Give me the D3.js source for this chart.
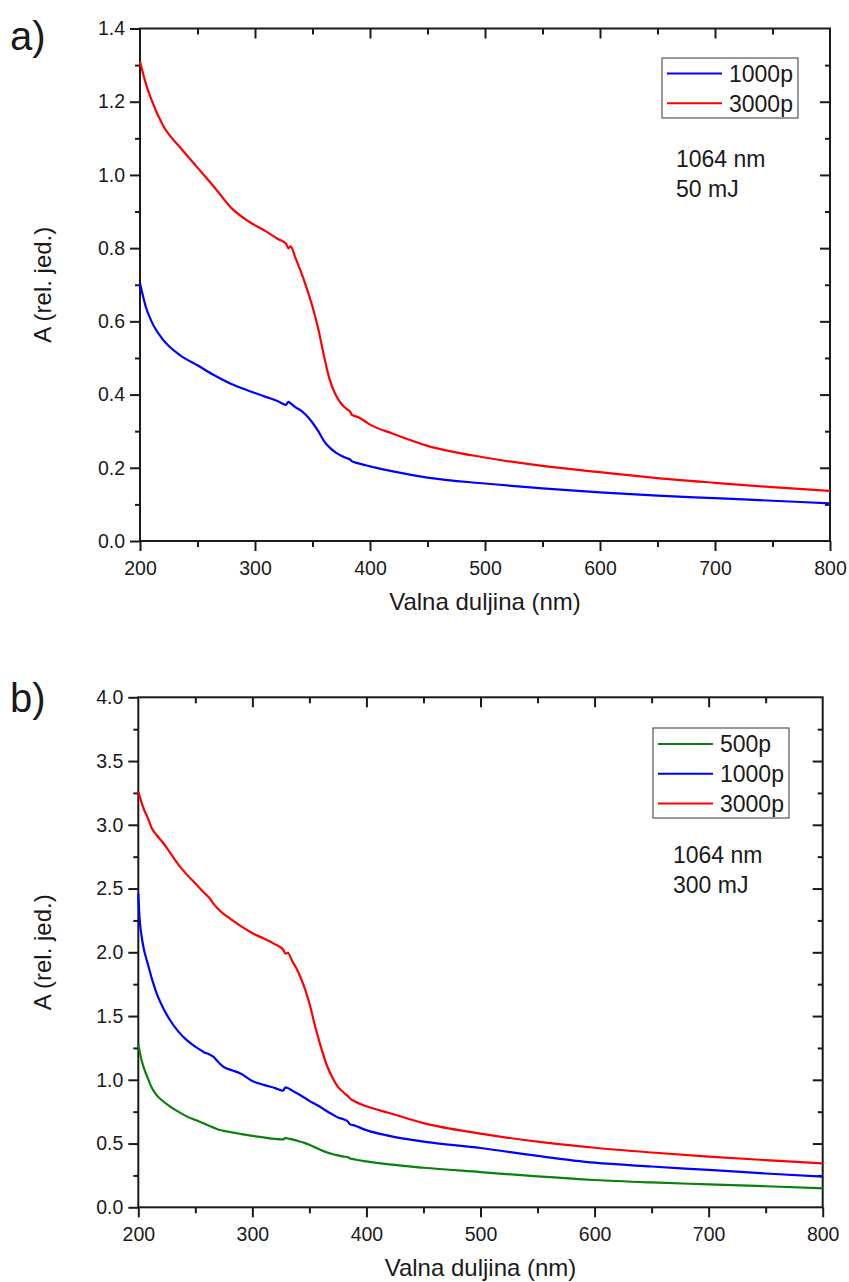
<!DOCTYPE html>
<html>
<head>
<meta charset="utf-8">
<script src="https://cdn.jsdelivr.net/npm/d3@7"></script>
<style>
  body { margin: 0; background: #fff; }
  svg { display: block; }
  text { font-family: "Liberation Sans", Arial, sans-serif; fill: #1a1a1a; }
</style>
</head>
<body>
<script>
// Panel a) 1064 nm, 50 mJ
const waveA = [200, 205, 210, 220, 235, 250, 265, 280, 295, 310, 320, 327, 329, 331, 335, 340, 345, 350, 355, 360,
  365, 370, 375, 380, 383, 384, 390, 400, 420, 450, 500, 550, 600, 650, 700, 750, 800];
const a1000 = [0.704, 0.64, 0.60, 0.55, 0.507, 0.48, 0.452, 0.428, 0.41, 0.393, 0.382, 0.372, 0.380, 0.376, 0.366, 0.356, 0.342, 0.323, 0.30, 0.273,
  0.255, 0.242, 0.233, 0.226, 0.222, 0.218, 0.212, 0.204, 0.19, 0.173, 0.157, 0.144, 0.133, 0.124, 0.117, 0.110, 0.103];
const a3000 = [1.31, 1.25, 1.205, 1.135, 1.075, 1.02, 0.965, 0.908, 0.872, 0.845, 0.825, 0.812, 0.800, 0.805, 0.775, 0.735, 0.69, 0.64, 0.58, 0.505,
  0.44, 0.40, 0.375, 0.36, 0.352, 0.345, 0.338, 0.318, 0.293, 0.26, 0.228, 0.205, 0.188, 0.172, 0.159, 0.147, 0.137];

// Panel b) 1064 nm, 300 mJ
const waveB = [200, 201, 203, 205, 208, 212, 216, 222, 228, 235, 242, 250, 258, 262, 266, 270, 275, 282, 290, 300,
  310, 320, 327, 329, 331, 335, 340, 345, 350, 355, 360, 365, 370, 375, 380, 384, 385, 390, 400, 420,
  450, 500, 550, 600, 650, 700, 750, 800];
const b500 = [1.28, 1.23, 1.15, 1.09, 1.02, 0.935, 0.88, 0.83, 0.79, 0.75, 0.715, 0.685, 0.655, 0.64, 0.625, 0.61, 0.60, 0.588, 0.575, 0.56,
  0.548, 0.537, 0.532, 0.545, 0.54, 0.533, 0.52, 0.507, 0.49, 0.47, 0.45, 0.432, 0.418, 0.407, 0.398, 0.393, 0.385, 0.375, 0.36, 0.336,
  0.31, 0.276, 0.242, 0.214, 0.195, 0.18, 0.165, 0.149];
const b1000 = [2.46, 2.28, 2.12, 2.02, 1.92, 1.79, 1.68, 1.56, 1.465, 1.38, 1.315, 1.26, 1.215, 1.20, 1.18, 1.14, 1.10, 1.075, 1.048, 0.99,
  0.96, 0.935, 0.915, 0.94, 0.935, 0.915, 0.89, 0.863, 0.835, 0.81, 0.785, 0.755, 0.73, 0.705, 0.69, 0.67, 0.655, 0.64, 0.605, 0.56,
  0.515, 0.465, 0.403, 0.35, 0.32, 0.293, 0.265, 0.24];
const b3000 = [3.26, 3.23, 3.17, 3.12, 3.06, 2.97, 2.92, 2.855, 2.78, 2.69, 2.615, 2.54, 2.465, 2.43, 2.38, 2.34, 2.30, 2.255, 2.205, 2.15,
  2.108, 2.062, 2.02, 1.99, 1.995, 1.93, 1.85, 1.74, 1.60, 1.42, 1.26, 1.12, 1.02, 0.945, 0.90, 0.87, 0.86, 0.83, 0.792, 0.74,
  0.66, 0.578, 0.515, 0.467, 0.43, 0.398, 0.37, 0.345];

// Ticks
const xTicks = [200, 300, 400, 500, 600, 700, 800];
const xMinor = [250, 350, 450, 550, 650, 750];
const yTicksA = [0, 0.2, 0.4, 0.6, 0.8, 1.0, 1.2, 1.4];
const yMinorA = [0.1, 0.3, 0.5, 0.7, 0.9, 1.1, 1.3];
const yTicksB = [0, 0.5, 1.0, 1.5, 2.0, 2.5, 3.0, 3.5, 4.0];
const yMinorB = [0.25, 0.75, 1.25, 1.75, 2.25, 2.75, 3.25, 3.75];

const legendA = ["1000p", "3000p"];
const legendB = ["500p", "1000p", "3000p"];
const notesA = ["1064 nm", "50 mJ"];
const notesB = ["1064 nm", "300 mJ"];

const RED = "#ff0000", BLUE = "#0000ff", GREEN = "#0a800a";
const INK = "#1a1a1a";
const FONT = "Liberation Sans, Arial, sans-serif";

const svg = d3.select("body").append("svg").attr("width", 849).attr("height", 1282);

const styleAxis = (sel) => {
  sel.attr("font-family", FONT).attr("font-size", 19.5).attr("color", INK);
  sel.select(".domain").remove();
  sel.selectAll(".tick line").attr("stroke-width", 2);
};

const drawPanel = (p) => {
  const g = svg.append("g");
  const x = d3.scaleLinear().domain([200, 800]).range([p.left, p.right]);
  const y = d3.scaleLinear().domain([0, p.yMax]).range([p.bottom, p.top]);
  const fmt = d3.format(".1f");

  // bottom + left: outward ticks with labels
  g.append("g").attr("transform", `translate(0,${p.bottom})`)
    .call(d3.axisBottom(x).tickValues(xMinor).tickSize(6).tickFormat("")).call(styleAxis);
  g.append("g").attr("transform", `translate(0,${p.bottom})`)
    .call(d3.axisBottom(x).tickValues(xTicks).tickSize(10).tickPadding(10).tickFormat(d3.format("d"))).call(styleAxis);
  g.append("g").attr("transform", `translate(${p.left},0)`)
    .call(d3.axisLeft(y).tickValues(p.yMinor).tickSize(5).tickFormat("")).call(styleAxis);
  g.append("g").attr("transform", `translate(${p.left},0)`)
    .call(d3.axisLeft(y).tickValues(p.yTicks).tickSize(10).tickPadding(5).tickFormat(fmt)).call(styleAxis);

  // top + right: inward ticks, no labels
  g.append("g").attr("transform", `translate(0,${p.top})`)
    .call(d3.axisTop(x).tickValues(xMinor).tickSize(-6).tickFormat("")).call(styleAxis);
  g.append("g").attr("transform", `translate(0,${p.top})`)
    .call(d3.axisTop(x).tickValues(xTicks.slice(1, -1)).tickSize(-10).tickFormat("")).call(styleAxis);
  g.append("g").attr("transform", `translate(${p.right},0)`)
    .call(d3.axisRight(y).tickValues(p.yMinor).tickSize(-5).tickFormat("")).call(styleAxis);
  g.append("g").attr("transform", `translate(${p.right},0)`)
    .call(d3.axisRight(y).tickValues(p.yTicks.slice(1, -1)).tickSize(-10).tickFormat("")).call(styleAxis);

  // frame
  g.append("rect")
    .attr("x", p.left).attr("y", p.top)
    .attr("width", p.right - p.left).attr("height", p.bottom - p.top)
    .attr("fill", "none").attr("stroke", INK).attr("stroke-width", 2);

  const line = d3.line().curve(d3.curveMonotoneX).x(d => x(d[0])).y(d => y(d[1]));
  p.series.forEach(s => {
    g.append("path")
      .datum(p.wave.map((w, i) => [w, s.values[i]]))
      .attr("d", line)
      .attr("fill", "none")
      .attr("stroke", s.color)
      .attr("stroke-width", 2.2)
      .attr("stroke-linejoin", "round");
  });

  // legend
  const lg = p.legend;
  g.append("rect")
    .attr("x", lg.x).attr("y", lg.y).attr("width", lg.w).attr("height", lg.h)
    .attr("fill", "#fff").attr("stroke", "#555").attr("stroke-width", 1.2);
  p.series.forEach((s, i) => {
    const cy = lg.y + lg.first + i * lg.step;
    g.append("line")
      .attr("x1", lg.x + 5).attr("x2", lg.x + 60)
      .attr("y1", cy).attr("y2", cy)
      .attr("stroke", s.color).attr("stroke-width", 2);
    g.append("text")
      .attr("x", lg.x + 67).attr("y", cy).attr("dy", "0.36em")
      .attr("font-size", 23)
      .text(s.name);
  });

  // notes
  p.notes.forEach((t, i) => {
    g.append("text")
      .attr("x", p.noteX).attr("y", p.noteY + i * 30)
      .attr("font-size", 23)
      .text(t);
  });

  // axis titles
  g.append("text")
    .attr("x", (p.left + p.right) / 2).attr("y", p.bottom + 69)
    .attr("text-anchor", "middle").attr("font-size", 24)
    .text("Valna duljina (nm)");
  g.append("text")
    .attr("transform", `translate(43,${(p.top + p.bottom) / 2}) rotate(-90)`)
    .attr("dy", "0.35em")
    .attr("text-anchor", "middle").attr("font-size", 24)
    .text("A (rel. jed.)");

  // panel label
  g.append("text")
    .attr("x", 10).attr("y", p.labelY)
    .attr("font-family", "Open Sans, Noto Sans, sans-serif")
    .attr("font-size", 40)
    .text(p.label);
};

drawPanel({
  left: 140, right: 830, top: 28.5, bottom: 541, yMax: 1.4,
  yTicks: yTicksA, yMinor: yMinorA,
  wave: waveA,
  series: [
    { name: legendA[0], values: a1000, color: BLUE },
    { name: legendA[1], values: a3000, color: RED }
  ],
  legend: { x: 662, y: 58, w: 136, h: 60, first: 15.5, step: 29.8 },
  notes: notesA, noteX: 676, noteY: 167,
  label: "a)", labelY: 50
});

drawPanel({
  left: 138.3, right: 822.7, top: 697.3, bottom: 1207.3, yMax: 4.0,
  yTicks: yTicksB, yMinor: yMinorB,
  wave: waveB,
  series: [
    { name: legendB[0], values: b500, color: GREEN },
    { name: legendB[1], values: b1000, color: BLUE },
    { name: legendB[2], values: b3000, color: RED }
  ],
  legend: { x: 653, y: 728, w: 136, h: 90, first: 16, step: 29.7 },
  notes: notesB, noteX: 673, noteY: 863,
  label: "b)", labelY: 712
});
</script>
</body>
</html>
